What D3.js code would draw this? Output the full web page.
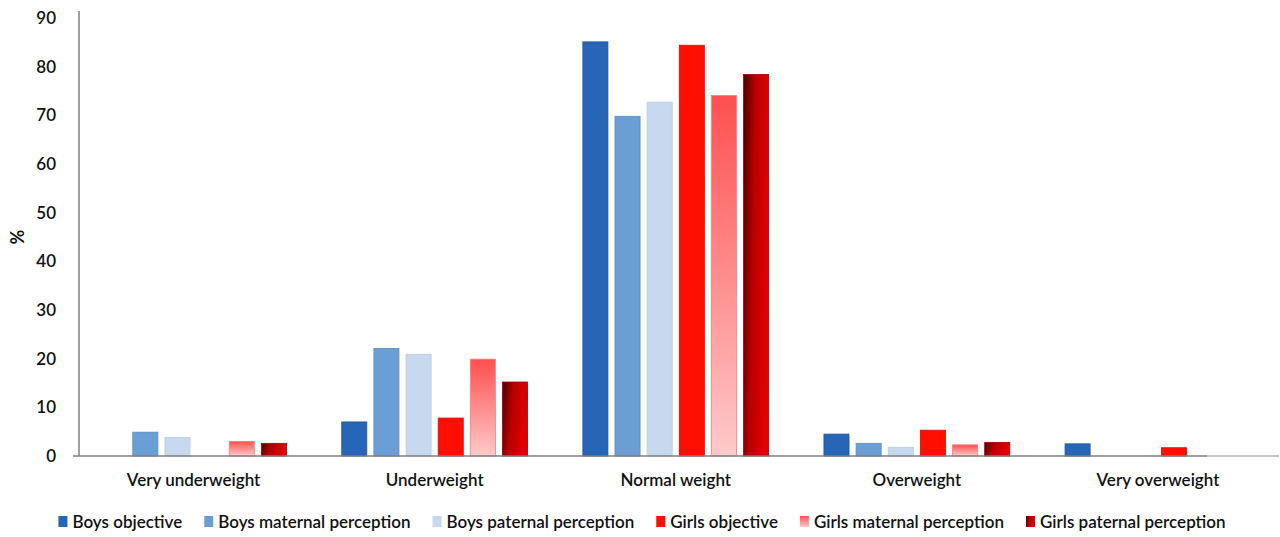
<!DOCTYPE html>
<html><head><meta charset="utf-8">
<script src="https://cdn.jsdelivr.net/npm/d3@7"></script>
<style>body{margin:0;background:#fff}svg{display:block}</style>
</head><body>
<svg id="chart" width="1280" height="537"></svg>
<script>
const categories = ["Very underweight","Underweight","Normal weight","Overweight","Very overweight"];
const seriesNames = ["Boys objective","Boys maternal perception","Boys paternal perception","Girls objective","Girls maternal perception","Girls paternal perception"];
const boysObjective = [0, 7.0, 85.1, 4.5, 2.5];
const boysMaternal  = [4.9, 22.1, 69.8, 2.6, 0];
const boysPaternal  = [3.8, 20.9, 72.7, 1.8, 0];
const girlsObjective = [0, 7.8, 84.4, 5.3, 1.7];
const girlsMaternal  = [3.0, 19.9, 74.1, 2.3, 0];
const girlsPaternal  = [2.6, 15.2, 78.4, 2.8, 0];
const yTicks = [0,10,20,30,40,50,60,70,80,90];

const seriesValues = [boysObjective, boysMaternal, boysPaternal, girlsObjective, girlsMaternal, girlsPaternal];
const fills = ["#2765b6", "#6a9fd6", "#c6d9ef", "#ff0f00", "url(#gMat)", "url(#gPat)"];
const strokes = ["#1f55a0", "#5b8cc4", "#b7cbe3", "#d80c00", "#f08080", "#a00000"];

const svg = d3.select("#chart");
const FONT = "Lato, 'Open Sans', sans-serif";
const TXT = "#111";
const defs = svg.append("defs");
const gm = defs.append("linearGradient").attr("id","gMat").attr("x1",0).attr("y1",0).attr("x2",0).attr("y2",1);
gm.append("stop").attr("offset","0%").attr("stop-color","#ff4f4f");
gm.append("stop").attr("offset","100%").attr("stop-color","#ffcaca");
const gp = defs.append("linearGradient").attr("id","gPat").attr("x1",0).attr("y1",0).attr("x2",1).attr("y2",0.25);
gp.append("stop").attr("offset","0%").attr("stop-color","#4a0000");
gp.append("stop").attr("offset","45%").attr("stop-color","#b80000");
gp.append("stop").attr("offset","100%").attr("stop-color","#e20000");

const x0 = d3.scaleBand().domain(categories).range([73, 1278.5]).paddingInner(0.2).paddingOuter(0.1);
const x1 = d3.scaleBand().domain(seriesNames).range([0, x0.bandwidth()]).paddingInner(0.22).paddingOuter(0.11);
const y = d3.scaleLinear().domain([0, 90]).range([456, 18]);

// y axis line
svg.append("line").attr("x1",79).attr("x2",79).attr("y1",y(0)).attr("y2",y(90)-7)
  .attr("stroke","#7f7f7f").attr("stroke-width",1.5);

// y tick labels
const yAxis = d3.axisLeft(y).tickValues(yTicks).tickSize(0).tickPadding(0);
const ya = svg.append("g").attr("transform","translate(56,0)").call(yAxis);
ya.select(".domain").remove();
ya.selectAll("text").attr("font-family",FONT).attr("font-size",17).attr("font-weight",600).attr("fill",TXT);

svg.append("text").attr("transform","translate(24,237) rotate(-90)").attr("text-anchor","middle")
  .attr("font-family",FONT).attr("font-size",18).attr("font-weight",700).attr("fill",TXT).text("%");

// bars
const groups = svg.append("g").selectAll("g").data(categories).join("g")
  .attr("transform", c => `translate(${x0(c)},0)`);
groups.selectAll("rect").data((c,ci) => seriesNames.map((s,si) => ({s, si, v: seriesValues[si][ci]})).filter(d => d.v > 0))
  .join("rect")
  .attr("x", d => x1(d.s)).attr("width", x1.bandwidth())
  .attr("y", d => y(d.v)).attr("height", d => y(0) - y(d.v))
  .attr("fill", d => fills[d.si]).attr("stroke", d => strokes[d.si]).attr("stroke-width", 0.8);

// x baseline
svg.append("line").attr("x1",73).attr("x2",1207).attr("y1",y(0)).attr("y2",y(0)).attr("stroke","#7f7f7f").attr("stroke-width",1.5);
svg.append("line").attr("x1",1207).attr("x2",1279).attr("y1",y(0)).attr("y2",y(0)).attr("stroke","#b5b5b5").attr("stroke-width",1.5);

// x category labels
const xAxis = d3.axisBottom(x0).tickSize(0).tickPadding(0);
const xa = svg.append("g").attr("transform",`translate(0,${y(0)+18})`).call(xAxis);
xa.select(".domain").remove();
xa.selectAll("text").attr("font-family",FONT).attr("font-size",17).attr("font-weight",600).attr("fill",TXT);

// legend
const lg = svg.append("g").attr("transform","translate(0,522)");
const items = lg.selectAll("g").data(seriesNames).join("g");
items.append("rect").attr("y",-6).attr("width",9).attr("height",11)
  .attr("fill",(d,i)=>fills[i]);
items.append("text").attr("x",14).attr("dy","0.35em").attr("font-family",FONT).attr("font-size",17).attr("font-weight",600).attr("fill",TXT).text(d=>d);
let widths = []; items.each(function(){ widths.push(this.getBBox().width); });
const gap = 22; const total = d3.sum(widths) + gap*(widths.length-1);
let cx = 642 - total/2;
items.attr("transform",(d,i)=>{ const t=`translate(${cx},0)`; cx += widths[i] + gap; return t; });
</script>
</body></html>
